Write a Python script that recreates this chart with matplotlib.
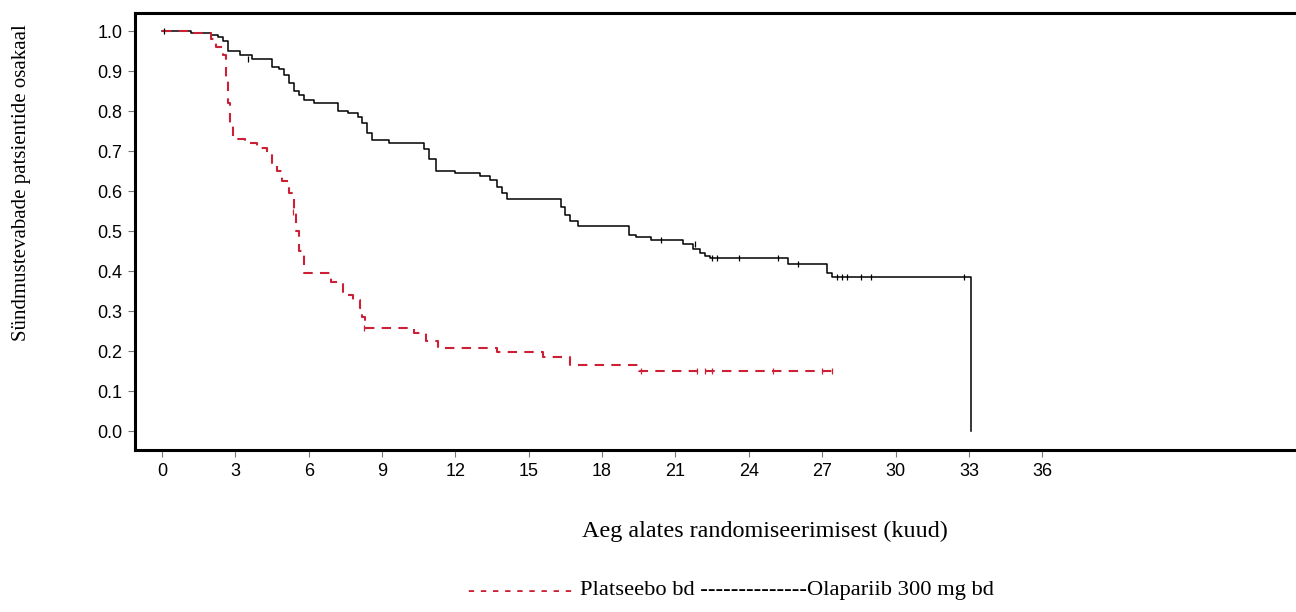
import numpy as np
import matplotlib.pyplot as plt

# Olapariib 300 mg bd (must pidev joon)
ola_t = [0, 1.2, 2.0, 2.3, 2.5, 2.7, 3.2, 3.7, 4.5, 4.8, 5.0, 5.2, 5.4, 5.6, 5.8, 6.2,
         7.2, 7.6, 8.0, 8.2, 8.4, 8.6, 9.3, 10.7, 10.9, 11.2, 12.0, 13.0, 13.4, 13.7,
         13.9, 14.1, 16.3, 16.5, 16.7, 17.0, 19.1, 19.4, 20.0, 21.3, 21.7, 22.0, 22.2,
         22.4, 25.6, 27.2, 27.4, 33.1]
ola_s = [1.0, 0.995, 0.99, 0.985, 0.975, 0.95, 0.94, 0.93, 0.91, 0.905, 0.89, 0.87,
         0.85, 0.84, 0.828, 0.82, 0.80, 0.795, 0.785, 0.77, 0.745, 0.727, 0.72, 0.705,
         0.68, 0.65, 0.645, 0.638, 0.628, 0.61, 0.595, 0.58, 0.56, 0.54, 0.525, 0.513,
         0.49, 0.485, 0.478, 0.468, 0.455, 0.445, 0.437, 0.432, 0.417, 0.395, 0.385, 0.0]
ola_cens_t = [0.1, 3.5, 20.4, 21.8, 22.5, 22.7, 23.6, 25.2, 26.0, 27.6, 27.8, 28.0, 28.6, 29.0, 32.8]
ola_cens_s = [1.0, 0.93, 0.478, 0.468, 0.432, 0.432, 0.432, 0.432, 0.417, 0.385, 0.385,
              0.385, 0.385, 0.385, 0.385]

# Platseebo bd (punane katkendjoon)
pla_t = [0, 1.2, 2.0, 2.2, 2.5, 2.6, 2.7, 2.8, 2.9, 3.4, 3.9, 4.3, 4.5, 4.7, 4.9, 5.2,
         5.4, 5.5, 5.6, 5.8, 6.9, 7.4, 7.8, 8.1, 8.2, 8.3, 10.3, 10.8, 11.3, 13.7, 15.6,
         16.7, 19.5, 27.6]
pla_s = [1.0, 0.995, 0.98, 0.96, 0.94, 0.88, 0.82, 0.77, 0.73, 0.72, 0.707, 0.695,
         0.67, 0.65, 0.625, 0.595, 0.55, 0.50, 0.45, 0.395, 0.373, 0.34, 0.328, 0.307,
         0.285, 0.257, 0.245, 0.225, 0.207, 0.197, 0.185, 0.165, 0.15, 0.15]
pla_cens_t = [5.35, 8.25, 19.6, 21.9, 22.2, 22.5, 25.0, 27.0, 27.4]
pla_cens_s = [0.548, 0.257, 0.15, 0.15, 0.15, 0.15, 0.15, 0.15, 0.15]

x_ticks = [0, 3, 6, 9, 12, 15, 18, 21, 24, 27, 30, 33, 36]
y_ticks = [0.0, 0.1, 0.2, 0.3, 0.4, 0.5, 0.6, 0.7, 0.8, 0.9, 1.0]

red = '#cc2036'

fig = plt.figure(figsize=(12.96, 6.12), dpi=100)
ax = fig.add_axes([135 / 1296, 162 / 612, 1 - 135 / 1296, 437 / 612])

ax.step(ola_t, ola_s, where='post', color='black', lw=1.1)
ax.step(pla_t, pla_s, where='post', color=red, lw=1.5, dashes=(4.5, 3.5))
ax.plot(ola_cens_t, ola_cens_s, ls='none', marker='|', ms=5, mew=0.9, color='black')
ax.plot(pla_cens_t, pla_cens_s, ls='none', marker='|', ms=5, mew=0.9, color=red)

ax.set_xlim(-1.104, 46.38)
ax.set_ylim(-0.0475, 1.045)
ax.set_xticks(x_ticks)
ax.set_yticks(y_ticks)
ax.set_xticklabels([str(v) for v in x_ticks])
ax.set_yticklabels(['%.1f' % v for v in y_ticks])
ax.tick_params(direction='out', length=5, width=0.8, color='#777777',
               labelsize=13, pad=4)
for lab in ax.get_xticklabels() + ax.get_yticklabels():
    lab.set_family('Liberation Sans')

ax.spines['right'].set_visible(False)
for s in ['left', 'top', 'bottom']:
    ax.spines[s].set_linewidth(2.2)

serif = 'Liberation Serif'
fig.text(22 / 1296, 1 - 183 / 612, 'Sündmustevabade patsientide osakaal', rotation=90,
         ha='center', va='center', family=serif, fontsize=15)
fig.text(765 / 1296, 1 - 531 / 612, 'Aeg alates randomiseerimisest (kuud)',
         ha='center', va='center', family=serif, fontsize=17.4)
fig.text(468 / 1296, 1 - 591 / 612, '- - - - - - - - -', color=red,
         ha='left', va='center', family=serif, fontsize=15)
fig.text(580 / 1296, 1 - 591 / 612, 'Platseebo bd --------------Olapariib 300 mg bd',
         color='black', ha='left', va='center', family=serif, fontsize=16.2)

fig.savefig('out.png', dpi=100)
